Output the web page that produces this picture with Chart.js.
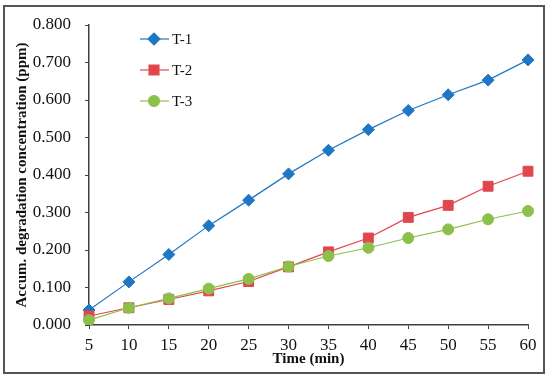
<!DOCTYPE html>
<html>
<head>
<meta charset="utf-8">
<script src="https://cdn.jsdelivr.net/npm/chart.js@4/dist/chart.umd.min.js"></script>
<style>
  html, body { margin: 0; padding: 0; background: #fff; }
  #wrap { width: 550px; height: 379px; }
</style>
</head>
<body>
<div id="wrap"><canvas id="degradation" width="550" height="379"></canvas></div>
<script>
const times = [5, 10, 15, 20, 25, 30, 35, 40, 45, 50, 55, 60];
const t1 = [0.040, 0.115, 0.188, 0.265, 0.333, 0.403, 0.466, 0.521, 0.572, 0.614, 0.653, 0.707];
const t2 = [0.024, 0.046, 0.068, 0.091, 0.116, 0.155, 0.195, 0.232, 0.287, 0.319, 0.370, 0.410];
const t3 = [0.013, 0.046, 0.071, 0.097, 0.123, 0.156, 0.184, 0.206, 0.232, 0.255, 0.282, 0.304];
const seriesNames = ['T-1', 'T-2', 'T-3'];

const serif = "'Liberation Serif', 'DejaVu Serif', serif";
const axisColor = '#404040';

// outer frame round the whole figure
const framePlugin = {
  id: 'frame',
  afterDraw(chart) {
    const ctx = chart.ctx;
    ctx.save();
    ctx.strokeStyle = '#555';
    ctx.lineWidth = 2;
    ctx.strokeRect(4, 6, 540, 367);
    ctx.restore();
  },
};

// legend in the upper left of the plot, line + marker + label
const legendPlugin = {
  id: 'sideLegend',
  afterDatasetsDraw(chart) {
    const ctx = chart.ctx;
    const area = chart.chartArea;
    chart.data.datasets.forEach((ds, i) => {
      const y = area.top + 14 + i * 31;
      const x0 = area.left + 51;
      ctx.save();
      ctx.strokeStyle = ds.borderColor;
      ctx.lineWidth = 1.2;
      ctx.beginPath();
      ctx.moveTo(x0, y);
      ctx.lineTo(x0 + 29, y);
      ctx.stroke();
      ctx.fillStyle = ds.backgroundColor;
      ctx.strokeStyle = ds.borderColor;
      Chart.helpers.drawPoint(ctx, {
        pointStyle: ds.pointStyle,
        radius: ds.pointRadius,
        borderWidth: 1,
        rotation: 0,
      }, x0 + 14, y);
      ctx.fillStyle = '#111';
      ctx.font = '15px ' + serif;
      ctx.textBaseline = 'middle';
      ctx.textAlign = 'left';
      ctx.fillText(ds.label, x0 + 32, y + 1);
      ctx.restore();
    });
  },
};

const makeSet = (label, data, color, style, radius, order) => ({
  label,
  data,
  borderColor: color,
  backgroundColor: color,
  borderWidth: 1.2,
  pointStyle: style,
  pointRadius: radius,
  pointHoverRadius: radius,
  pointBorderWidth: 1,
  tension: 0,
  order,
});

new Chart(document.getElementById('degradation').getContext('2d'), {
  type: 'line',
  data: {
    labels: times,
    datasets: [
      makeSet(seriesNames[0], t1, '#1f77c4', 'rectRot', 6, 2),
      makeSet(seriesNames[1], t2, '#e0474c', 'rect', 7, 1),
      makeSet(seriesNames[2], t3, '#8cc04a', 'circle', 5.5, 0),
    ],
  },
  options: {
    responsive: false,
    animation: false,
    layout: { padding: { left: 0, right: 22, top: 25, bottom: 0 } },
    plugins: {
      legend: { display: false },
      tooltip: { enabled: false },
    },
    scales: {
      x: {
        type: 'category',
        offset: false,
        grid: { drawOnChartArea: false, drawTicks: true, tickLength: 4, color: axisColor },
        border: { display: true, color: axisColor, width: 1.5 },
        ticks: { color: '#111', font: { family: serif, size: 17 }, padding: 6, maxRotation: 0 },
        title: {
          display: true,
          text: 'Time (min)',
          color: '#111',
          font: { family: serif, size: 15, weight: 'bold' },
          padding: { top: 0, bottom: 11 },
        },
        afterFit(scale) { scale.height = 54; },
      },
      y: {
        min: 0,
        max: 0.8,
        grid: { drawOnChartArea: false, drawTicks: true, tickLength: 4, color: axisColor },
        border: { display: true, color: axisColor, width: 1.5 },
        ticks: {
          stepSize: 0.1,
          color: '#111',
          font: { family: serif, size: 17 },
          padding: 14,
          callback: (v) => v.toFixed(3),
        },
        title: {
          display: true,
          text: 'Accum. degradation concentration (ppm)',
          color: '#111',
          font: { family: serif, size: 15, weight: 'bold' },
          padding: { top: 13, bottom: 0 },
        },
        afterFit(scale) { scale.width = 89; },
      },
    },
  },
  plugins: [framePlugin, legendPlugin],
});
</script>
</body>
</html>
